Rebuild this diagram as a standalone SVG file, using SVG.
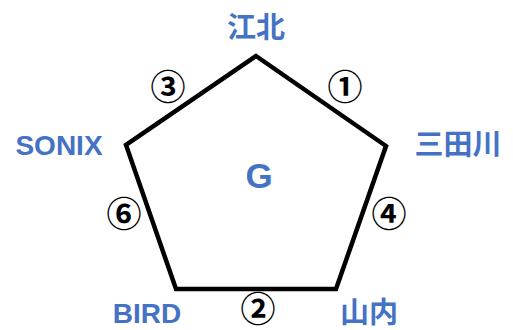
<svg xmlns="http://www.w3.org/2000/svg" width="513" height="330" viewBox="0 0 513 330">
<style>
.lbl{fill:#4472C4;font-family:"Liberation Sans","Noto Sans CJK JP",sans-serif;font-weight:bold;font-size:28px;text-anchor:middle}
.cjk{font-family:"Noto Sans CJK JP",sans-serif;font-size:29px}
.num{fill:#000;font-family:"Noto Sans CJK JP",sans-serif;font-weight:bold;font-size:35px;text-anchor:middle}
.edge{fill:none;stroke:#000;stroke-width:4.5;stroke-linejoin:miter}
</style>
<rect width="513" height="330" fill="#fff"/>
<g id="connectors">
<polygon class="edge" points="256,56 386,146 336,289 176,289 126,145"/>
<text class="num" x="345" y="100">①</text>
<text class="num" x="258" y="322">②</text>
<text class="num" x="168" y="100">③</text>
<text class="num" x="389" y="227">④</text>
<text class="num" x="124" y="227">⑥</text>
</g>
<g id="node-center"><text class="lbl" x="259" y="188" style="font-size:35px">G</text></g>
<g id="node-kohoku"><text class="lbl cjk" x="256" y="38">江北</text></g>
<g id="node-mitagawa"><text class="lbl cjk" x="458" y="155">三田川</text></g>
<g id="node-yamauchi"><text class="lbl cjk" x="369" y="323">山内</text></g>
<g id="node-bird"><text class="lbl" x="147" y="323">BIRD</text></g>
<g id="node-sonix"><text class="lbl" x="59" y="155">SONIX</text></g>
</svg>
